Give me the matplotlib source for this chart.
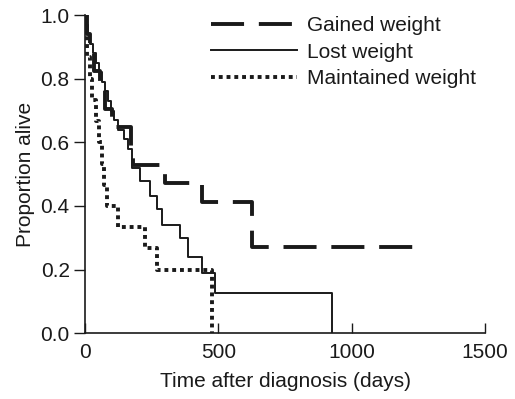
import matplotlib
matplotlib.use('Agg')
import matplotlib.pyplot as plt

plt.rcParams['font.family'] = ['Liberation Sans', 'DejaVu Sans']

# survival curves (Kaplan-Meier steps)
gained_t = [0, 8, 20, 35, 55, 75, 100, 172, 180, 300, 440, 625, 1250]
gained_p = [1.0, 0.941, 0.882, 0.824, 0.765, 0.706, 0.647, 0.588, 0.529, 0.471, 0.412, 0.27, 0.27]

lost_t = [0, 5, 12, 20, 30, 40, 52, 63, 75, 87, 98, 110, 124, 145, 162, 177,
          206, 244, 270, 290, 356, 386, 439, 487, 926]
lost_p = [1.0, 0.97, 0.94, 0.91, 0.88, 0.85, 0.82, 0.79, 0.76, 0.73, 0.70, 0.67,
          0.64, 0.61, 0.58, 0.52, 0.48, 0.43, 0.39, 0.34, 0.30, 0.24, 0.19, 0.125, 0.0]

maint_t = [0, 3, 8, 18, 28, 40, 52, 62, 72, 84, 124, 225, 270, 476]
maint_p = [1.0, 0.933, 0.867, 0.8, 0.733, 0.667, 0.6, 0.533, 0.467, 0.4, 0.333, 0.267, 0.2, 0.0]

labels = ['Gained weight', 'Lost weight', 'Maintained weight']
x_ticks = [0, 500, 1000, 1500]
y_ticks = [0.0, 0.2, 0.4, 0.6, 0.8, 1.0]

ink = '#1a1a1a'
fs = 15

fig = plt.figure(figsize=(5.15, 3.99), dpi=100)
ax = fig.add_axes([0.165, 0.165, 0.777, 0.797])

ax.step(gained_t, gained_p, where='post', color=ink, lw=2.8,
        linestyle=(0, (8.5, 3.8)), label=labels[0])
ax.step(lost_t, lost_p, where='post', color=ink, lw=1.4,
        linestyle='-', label=labels[1])
ax.step(maint_t, maint_p, where='post', color=ink, lw=2.8,
        linestyle=(0, (1, 1)), label=labels[2])

ax.set_xlim(0, 1500)
ax.set_ylim(0, 1.0)
ax.set_xticks(x_ticks)
ax.set_yticks(y_ticks)
ax.set_yticklabels([f'{v:.1f}' for v in y_ticks])

for s in ['top', 'right']:
    ax.spines[s].set_visible(False)
for s in ['left', 'bottom']:
    ax.spines[s].set_color(ink)
    ax.spines[s].set_linewidth(1.2)

ax.tick_params(axis='x', direction='in', length=7, width=1, colors=ink,
               labelsize=fs, pad=7)
ax.tick_params(axis='y', direction='out', length=8, width=1, colors=ink,
               labelsize=fs, pad=3)

ax.set_xlabel('Time after diagnosis (days)', fontsize=fs, color=ink, labelpad=7)
ax.set_ylabel('Proportion alive', fontsize=fs, color=ink, labelpad=4)

ax.legend(loc='upper left', bbox_to_anchor=(0.39, 0.985),
          bbox_transform=fig.transFigure, frameon=False, fontsize=fs,
          handlelength=4.1, handletextpad=0.5, borderpad=0, labelspacing=0.35,
          labelcolor=ink)

fig.savefig('out.png', dpi=100)
